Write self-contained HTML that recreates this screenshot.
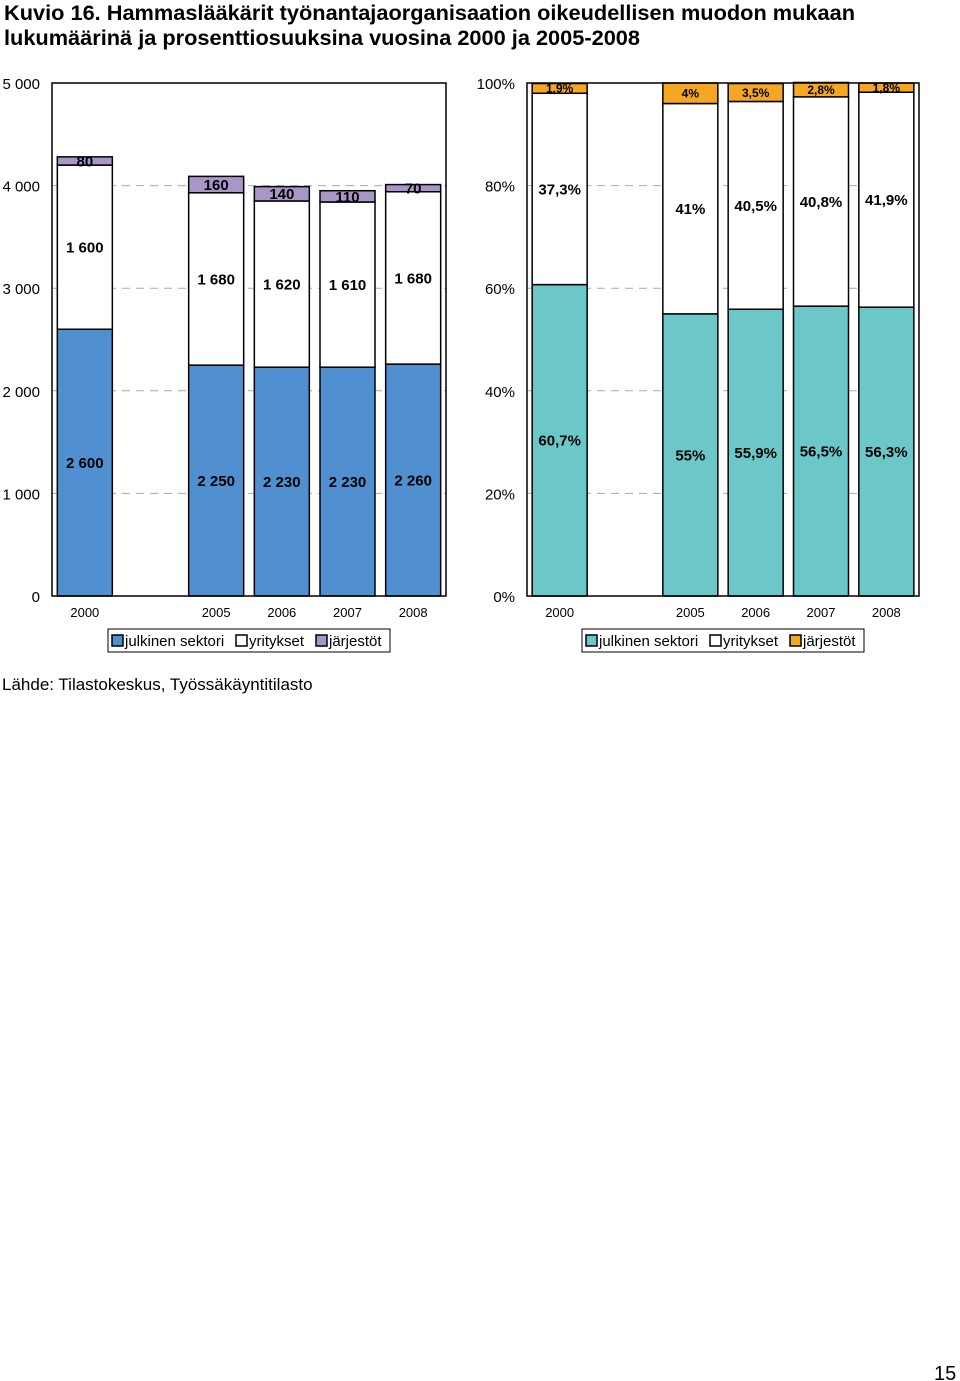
<!DOCTYPE html>
<html><head><meta charset="utf-8"><style>
html,body{margin:0;padding:0;background:#fff;}
svg{display:block;font-family:"Liberation Sans",sans-serif;}
</style></head><body>
<svg id="s" width="960" height="1381" viewBox="0 0 960 1381">
<text x="4" y="20" font-size="21" font-weight="bold" textLength="851" lengthAdjust="spacingAndGlyphs">Kuvio 16. Hammaslääkärit työnantajaorganisaation oikeudellisen muodon mukaan</text>
<text x="4" y="45" font-size="21" font-weight="bold" textLength="636" lengthAdjust="spacingAndGlyphs">lukumäärinä ja prosenttiosuuksina vuosina 2000 ja 2005-2008</text>
<text x="2" y="690" font-size="17">Lähde: Tilastokeskus, Työssäkäyntitilasto</text>
<text x="934" y="1380" font-size="20">15</text>
<g id="left"></g>
<g id="right"></g>
</svg>
<script>
const categories = ["2000", "", "2005", "2006", "2007", "2008"];
const countPublic = [2600, null, 2250, 2230, 2230, 2260];
const countCompanies = [1600, null, 1680, 1620, 1610, 1680];
const countOrgs = [80, null, 160, 140, 110, 70];
const countTicks = [0, 1000, 2000, 3000, 4000, 5000];
const countTickLabels = ["0", "1 000", "2 000", "3 000", "4 000", "5 000"];
const countLabels = [["2 600","1 600","80"], null, ["2 250","1 680","160"], ["2 230","1 620","140"], ["2 230","1 610","110"], ["2 260","1 680","70"]];
const pctPublic = [60.7, null, 55, 55.9, 56.5, 56.3];
const pctCompanies = [37.3, null, 41, 40.5, 40.8, 41.9];
const pctOrgs = [1.9, null, 4, 3.5, 2.8, 1.8];
const pctTicks = [0, 20, 40, 60, 80, 100];
const pctTickLabels = ["0%", "20%", "40%", "60%", "80%", "100%"];
const pctLabels = [["60,7%","37,3%","1,9%"], null, ["55%","41%","4%"], ["55,9%","40,5%","3,5%"], ["56,5%","40,8%","2,8%"], ["56,3%","41,9%","1,8%"]];
const legendNames = ["julkinen sektori", "yritykset", "järjestöt"];

const NS = "http://www.w3.org/2000/svg";
function mk(parent, tag, attrs, text) {
  const e = document.createElementNS(NS, tag);
  for (const k in attrs) e.setAttribute(k, attrs[k]);
  if (text !== undefined) e.textContent = text;
  parent.appendChild(e);
  return e;
}
function drawChart(g, cfg) {
  const {x0, x1, y0, y1, max, series, colors, ticks, tickLabels, labels, tickX, legendX, legendW, orgSize} = cfg;
  const yScale = v => y0 - (v / max) * (y0 - y1);
  const slot = (x1 - x0) / categories.length;
  const xCenter = i => x0 + slot * (i + 0.5);
  const bw = 55;
  ticks.forEach((t, i) => {
    const y = yScale(t);
    if (t !== 0 && t !== max) {
      const gl = mk(g, "line", {x1: x0, x2: x1, y1: y, y2: y, stroke: "#aaa", "stroke-dasharray": "8,6", "stroke-width": 1});
      
      
    }
    const tl = mk(g, "text", {x: tickX, y: y + 6, "font-size": 15, "text-anchor": "end"}, tickLabels[i]);
    
    
  });
  categories.forEach((c, i) => {
    if (c === "") return;
    let base = 0;
    series.forEach((arr, s) => {
      const v = arr[i];
      const yt = yScale(base + v), yb = yScale(base);
      const r = mk(g, "rect", {x: xCenter(i) - bw / 2, y: yt, width: bw, height: yb - yt, fill: colors[s], stroke: "#000", "stroke-width": 1.5});
      
      
      const fs = s === 2 ? orgSize : 15;
      const lt = mk(g, "text", {x: xCenter(i), y: (yt + yb) / 2 + fs * 0.36, "font-size": fs, "font-weight": "bold", "text-anchor": "middle"}, labels[i][s]);
      
      
      base += v;
    });
    const xl = mk(g, "text", {x: xCenter(i), y: y0 + 21, "font-size": 13, "text-anchor": "middle"}, c);
    
    
  });
  const fr = mk(g, "rect", {x: x0, y: y1, width: x1 - x0, height: y0 - y1, fill: "none", stroke: "#000", "stroke-width": 1.5});
  
  
  const lg = mk(g, "g", {});
  
  
  mk(lg, "rect", {x: legendX, y: 629, width: legendW, height: 23, fill: "#fff", stroke: "#000", "stroke-width": 1});
  const offs = [4, 128, 208];
  legendNames.forEach((n, k) => {
    const sw = mk(lg, "rect", {x: legendX + offs[k], y: 635, width: 11, height: 11, fill: colors[k], stroke: "#000", "stroke-width": 1.5});
    
    
    const t = mk(lg, "text", {x: legendX + offs[k] + 13, y: 646, "font-size": 15}, n);
    
    
  });
}
drawChart(document.getElementById("left"), {
  x0: 52, x1: 446, y0: 596, y1: 83, max: 5000,
  series: [countPublic, countCompanies, countOrgs],
  colors: ["#5090d0", "#ffffff", "#a896c8"],
  ticks: countTicks, tickLabels: countTickLabels, labels: countLabels,
  tickX: 40, legendX: 108, legendW: 282, orgSize: 15
});
drawChart(document.getElementById("right"), {
  x0: 527, x1: 919, y0: 596, y1: 83, max: 100,
  series: [pctPublic, pctCompanies, pctOrgs],
  colors: ["#6cc8c8", "#ffffff", "#f5a623"],
  ticks: pctTicks, tickLabels: pctTickLabels, labels: pctLabels,
  tickX: 515, legendX: 582, legendW: 282, orgSize: 12
});
</script>
</body></html>
